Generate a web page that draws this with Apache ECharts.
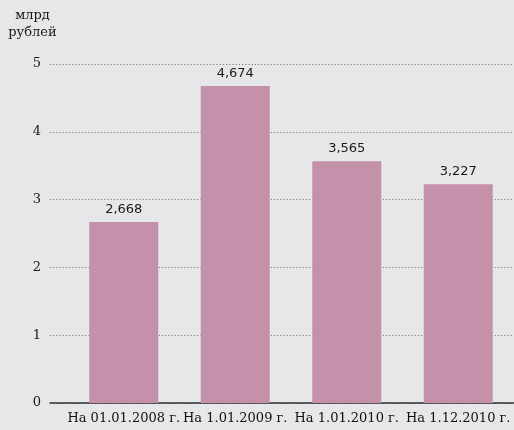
<!DOCTYPE html>
<html>
<head>
<meta charset="utf-8">
<script src="https://cdn.jsdelivr.net/npm/echarts@6/dist/echarts.min.js"></script>
<style>
html,body{margin:0;padding:0;background:#e6e7e9;}
#c{width:514px;height:430px;}
</style>
</head>
<body>
<div id="c"></div>
<script>
var categories = ['На 01.01.2008 г.', 'На 1.01.2009 г.', 'На 1.01.2010 г.', 'На 1.12.2010 г.'];
var values = [2.668, 4.674, 3.565, 3.227];
var valueLabels = ['2,668', '4,674', '3,565', '3,227'];
var yTicks = [0, 1, 2, 3, 4, 5];

var chart = echarts.init(document.getElementById('c'));
var serif = 'DejaVu Serif';
chart.setOption({
  backgroundColor: '#e6e7e9',
  animation: false,
  graphic: [{
    type: 'text', x: 32.5, y: 7,
    style: { text: 'млрд\nрублей', font: '13px "DejaVu Serif"', fill: '#1a1a1a', textAlign: 'center', lineHeight: 17 }
  }],
  grid: [
    { left: 50, right: 0, top: 64, bottom: 27 },
    { left: 68, right: -4, top: 64, bottom: 27 }
  ],
  xAxis: [
    { type: 'category', gridIndex: 0, data: [''], axisTick: {show: false}, axisLabel: {show: false},
      axisLine: { lineStyle: { color: '#333', width: 1.5 } } },
    { type: 'category', gridIndex: 1, data: categories, axisTick: {show: false},
      axisLine: { show: false },
      axisLabel: { color: '#111', fontFamily: serif, fontSize: 13, margin: 9, interval: 0 } }
  ],
  yAxis: [
    { type: 'value', gridIndex: 0, min: 0, max: 5, interval: 1,
      axisLine: {show: false}, axisTick: {show: false},
      axisLabel: { color: '#1a1a1a', fontFamily: serif, fontSize: 13, margin: 9,
        formatter: function (v) { return yTicks.indexOf(v) >= 0 ? String(v) : ''; } },
      splitLine: { lineStyle: { type: [1.2, 2], color: '#808080', width: 1.1 } } },
    { type: 'value', gridIndex: 1, min: 0, max: 5, interval: 1, show: false, splitLine: {show: false} }
  ],
  series: [{
    type: 'bar', xAxisIndex: 1, yAxisIndex: 1, data: values, barWidth: 69,
    itemStyle: { color: '#c490aa' },
    label: { show: true, position: 'top', distance: 6, color: '#1a1a1a', fontFamily: 'DejaVu Sans', fontSize: 13,
      formatter: function (p) { return valueLabels[p.dataIndex]; } }
  }]
});
</script>
</body>
</html>
